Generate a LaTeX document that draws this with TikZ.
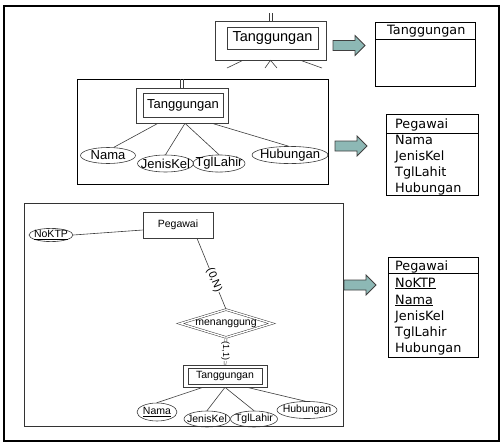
\documentclass[tikz,border=0pt]{standalone}
\usepackage{fontspec}
\setmainfont{Liberation Sans}
\newfontfamily\tabfont{DejaVu Sans}
\usetikzlibrary{shapes.geometric,calc}
\newcommand\zw[1]{\makebox[0pt]{#1}}
\definecolor{arrowfill}{RGB}{141,184,181}
\definecolor{erink}{RGB}{60,60,60}
\begin{document}
\begin{tikzpicture}[x=1pt,y=-1pt,
  erline/.style={draw=erink, line width=0.6pt},
  attr/.style={ellipse, draw=erink, line width=0.6pt, inner sep=0pt},
  ebox/.style={rectangle, draw=erink, line width=0.6pt, inner sep=0pt},
  tabframe/.style={rectangle, draw=black, line width=0.8pt, inner sep=0pt, anchor=north west},
  tabtext/.style={font=\tabfont\fontsize{12.8}{15}\selectfont, anchor=base west, inner sep=0pt},
  erA/.style={font=\fontsize{14.5}{16}\selectfont},
  erB/.style={font=\fontsize{13}{15}\selectfont},
  erC/.style={font=\fontsize{10.5}{12}\selectfont},
  lbl/.style={fill=white, inner sep=0.4pt},
  blockarrow/.pic={\draw[fill=arrowfill, draw=black!75, line width=0.8pt, line join=miter] (0,-5) -- (22,-5) -- (22,-10) -- (32,0) -- (22,10) -- (22,5) -- (0,5) -- cycle;}
]
\useasboundingbox (0,0) rectangle (504,445);
\draw[line width=2pt] (4,6) rectangle (499,441);

% ---------- panel 1 ----------
\node[ebox, minimum width=111, minimum height=39] (t1o) at (270.5,40.5) {};
\node[ebox, erA, minimum width=91, minimum height=22] (t1i) at (272.5,38) {Tanggungan};
\coordinate (t1up) at (270.5,13);
\coordinate (s1) at (227,68);
\coordinate (s2a) at (265,68);
\coordinate (s2b) at (277,68);
\coordinate (s3) at (322,68);
\draw[erline] ([xshift=-1.5pt]t1o.north) -- ([xshift=-1.5pt]t1up);
\draw[erline] ([xshift=1.5pt]t1o.north) -- ([xshift=1.5pt]t1up);
\draw[erline] ([xshift=-27.5pt]t1o.south) -- (s1);
\draw[erline] (s2a) -- (t1o.south) -- (s2b);
\draw[erline] ([xshift=30pt]t1o.south) -- (s3);

\node[tabframe, minimum width=100, minimum height=64] (tab1) at (375,22) {};
\draw[line width=0.8pt] ([yshift=-17pt]tab1.north west) -- ([yshift=-17pt]tab1.north east);
\node[tabtext] (tab1h) at (387,34) {Tanggungan};
\pic at (333,45.5) {blockarrow};

% ---------- panel 2 ----------
\draw[line width=0.8pt] (77,79) rectangle (328,184);
\node[ebox, minimum width=92, minimum height=35] (t2o) at (182,105.5) {};
\node[ebox, erB, minimum width=80, minimum height=24] (t2i) at (183,105) {Tanggungan};
\coordinate (t2up) at (182,79);
\draw[erline] ([xshift=-1.5pt]t2o.north) -- ([xshift=-1.5pt]t2up);
\draw[erline] ([xshift=1.5pt]t2o.north) -- ([xshift=1.5pt]t2up);
\node[attr, erB, minimum width=55, minimum height=16] (nama2) at (108,155.5) {\zw{Nama}};
\node[attr, erB, minimum width=56, minimum height=17] (jk2) at (165.5,163.5) {\zw{JenisKel}};
\node[attr, erB, minimum width=52, minimum height=17] (tl2) at (219,163.5) {\zw{TglLahir}};
\node[attr, erB, minimum width=76, minimum height=17] (hub2) at (290,155) {\zw{Hubungan}};
\draw[erline] ([xshift=-24pt]t2o.south) -- (nama2.55);
\draw[erline] ([xshift=3pt]t2o.south) -- (jk2.north);
\draw[erline] ([xshift=3pt]t2o.south) -- (tl2.north);
\draw[erline] ([xshift=30pt]t2o.south) -- (hub2.100);

\node[tabframe, minimum width=92, minimum height=81] (tab2) at (386,114) {};
\draw[line width=0.8pt] ([yshift=-19pt]tab2.north west) -- ([yshift=-19pt]tab2.north east);
\node[tabtext] (tab2h) at (395,128) {Pegawai};
\node[tabtext] (tab2a) at (395,144) {Nama};
\node[tabtext] (tab2b) at (395,160) {JenisKel};
\node[tabtext] (tab2c) at (395,176) {TglLahit};
\node[tabtext] (tab2d) at (395,192) {Hubungan};
\pic at (335,146) {blockarrow};

% ---------- panel 3 ----------
\draw[line width=1pt, draw=black!80] (24,203) rectangle (343,426);
\node[ebox, erC, minimum width=70, minimum height=26] (peg3) at (178,225) {Pegawai};
\node[attr, erC, minimum width=44, minimum height=13] (nok3) at (51,235) {\zw{\underline{NoKTP}}};
\draw[erline] (nok3.east) -- ([yshift=-5pt]peg3.west);
\node[diamond, draw=erink, line width=0.5pt, double, double distance=1.4pt, aspect=3.3, inner sep=0pt,
      minimum width=92, minimum height=28, erC] (rel3) at (226,323.5) {menanggung};
\draw[erline] ([xshift=19pt]peg3.south) -- (rel3.north)
  node[lbl, pos=0.59, rotate=-68, font=\fontsize{11}{12}\selectfont] (lb1) {(0,N)};
\node[ebox, minimum width=84, minimum height=22] (t3o) at (225,376) {};
\node[ebox, erC, minimum width=74, minimum height=16] (t3i) at (225,376) {Tanggungan};
\draw[draw=erink, line width=0.5pt, double, double distance=1.4pt] (rel3.south) -- (t3o.north)
  node[lbl, midway, rotate=-90, font=\fontsize{9}{10}\selectfont] (lb2) {(1,1)};
\node[attr, erC, minimum width=40, minimum height=18] (nama3) at (157,412) {\zw{\underline{Nama}}};
\node[attr, erC, minimum width=46, minimum height=16] (jk3) at (207,419) {\zw{JenisKel}};
\node[attr, erC, minimum width=47, minimum height=16] (tl3) at (254,419) {\zw{TglLahir}};
\node[attr, erC, minimum width=60, minimum height=17] (hub3) at (307,410) {\zw{Hubungan}};
\draw[erline] ([xshift=-22pt]t3o.south) -- (nama3.north);
\draw[erline] (t3o.south) -- (jk3.north);
\draw[erline] (t3o.south) -- (tl3.north);
\draw[erline] ([xshift=22pt]t3o.south) -- (hub3.100);

\node[tabframe, minimum width=90, minimum height=100] (tab3) at (388,257) {};
\draw[line width=0.8pt] ([yshift=-16pt]tab3.north west) -- ([yshift=-16pt]tab3.north east);
\node[tabtext] (tab3h) at (395,270) {Pegawai};
\node[tabtext] (tab3a) at (395,287) {\underline{NoKTP}};
\node[tabtext] (tab3b) at (395,304) {\underline{Nama}};
\node[tabtext] (tab3c) at (395,320) {JenisKel};
\node[tabtext] (tab3d) at (395,336) {TglLahir};
\node[tabtext] (tab3e) at (395,352) {Hubungan};
\pic at (344,285) {blockarrow};
\end{tikzpicture}
\end{document}
